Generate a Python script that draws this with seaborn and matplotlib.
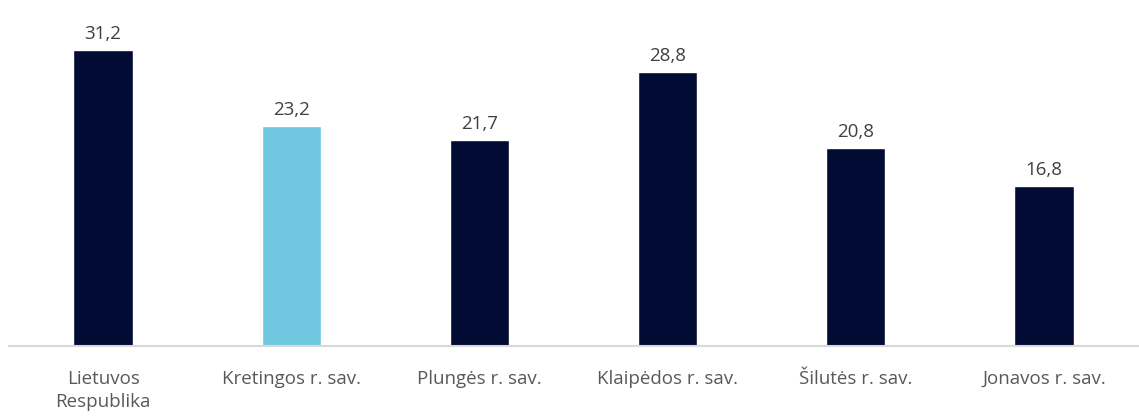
import matplotlib
matplotlib.use("Agg")
import matplotlib.pyplot as plt
import seaborn as sns
import pandas as pd

categories = ["Lietuvos\nRespublika", "Kretingos r. sav.", "Plungės r. sav.",
              "Klaipėdos r. sav.", "Šilutės r. sav.", "Jonavos r. sav."]
values = [31.2, 23.2, 21.7, 28.8, 20.8, 16.8]
highlight = [False, True, False, False, False, False]

df = pd.DataFrame({"cat": categories, "val": values, "hl": highlight})

sns.set_theme(style="white")
plt.rcParams['font.family'] = ['Open Sans', 'DejaVu Sans']

fig = plt.figure(figsize=(11.39, 4.17), dpi=100)
ax = fig.add_axes([0.0079, 0.170, 0.9912, 0.775])

sns.barplot(data=df, x="cat", y="val", hue="hl",
            palette={False: "#020b33", True: "#70c8e0"},
            width=0.315, dodge=False, legend=False, ax=ax, saturation=1)

# value labels with decimal comma
for c in ax.containers:
    ax.bar_label(c, labels=[f"{v:.1f}".replace(".", ",") if v == v else "" for v in c.datavalues],
                 padding=5, fontsize=13.5, color="#404040")

ax.set_ylim(0, 34)
ax.set_xlim(-0.5, len(categories) - 0.5)
ax.set_xlabel("")
ax.set_ylabel("")
ax.set_yticks([])
for s in ["top", "right", "left"]:
    ax.spines[s].set_visible(False)
ax.spines["bottom"].set_color("#d9d9d9")
ax.spines["bottom"].set_linewidth(1.5)
ax.tick_params(axis="x", length=0, pad=17, labelsize=13.5, labelcolor="#595959")
for t in ax.get_xticklabels():
    t.set_linespacing(1.35)

fig.savefig("out.png", dpi=100)
